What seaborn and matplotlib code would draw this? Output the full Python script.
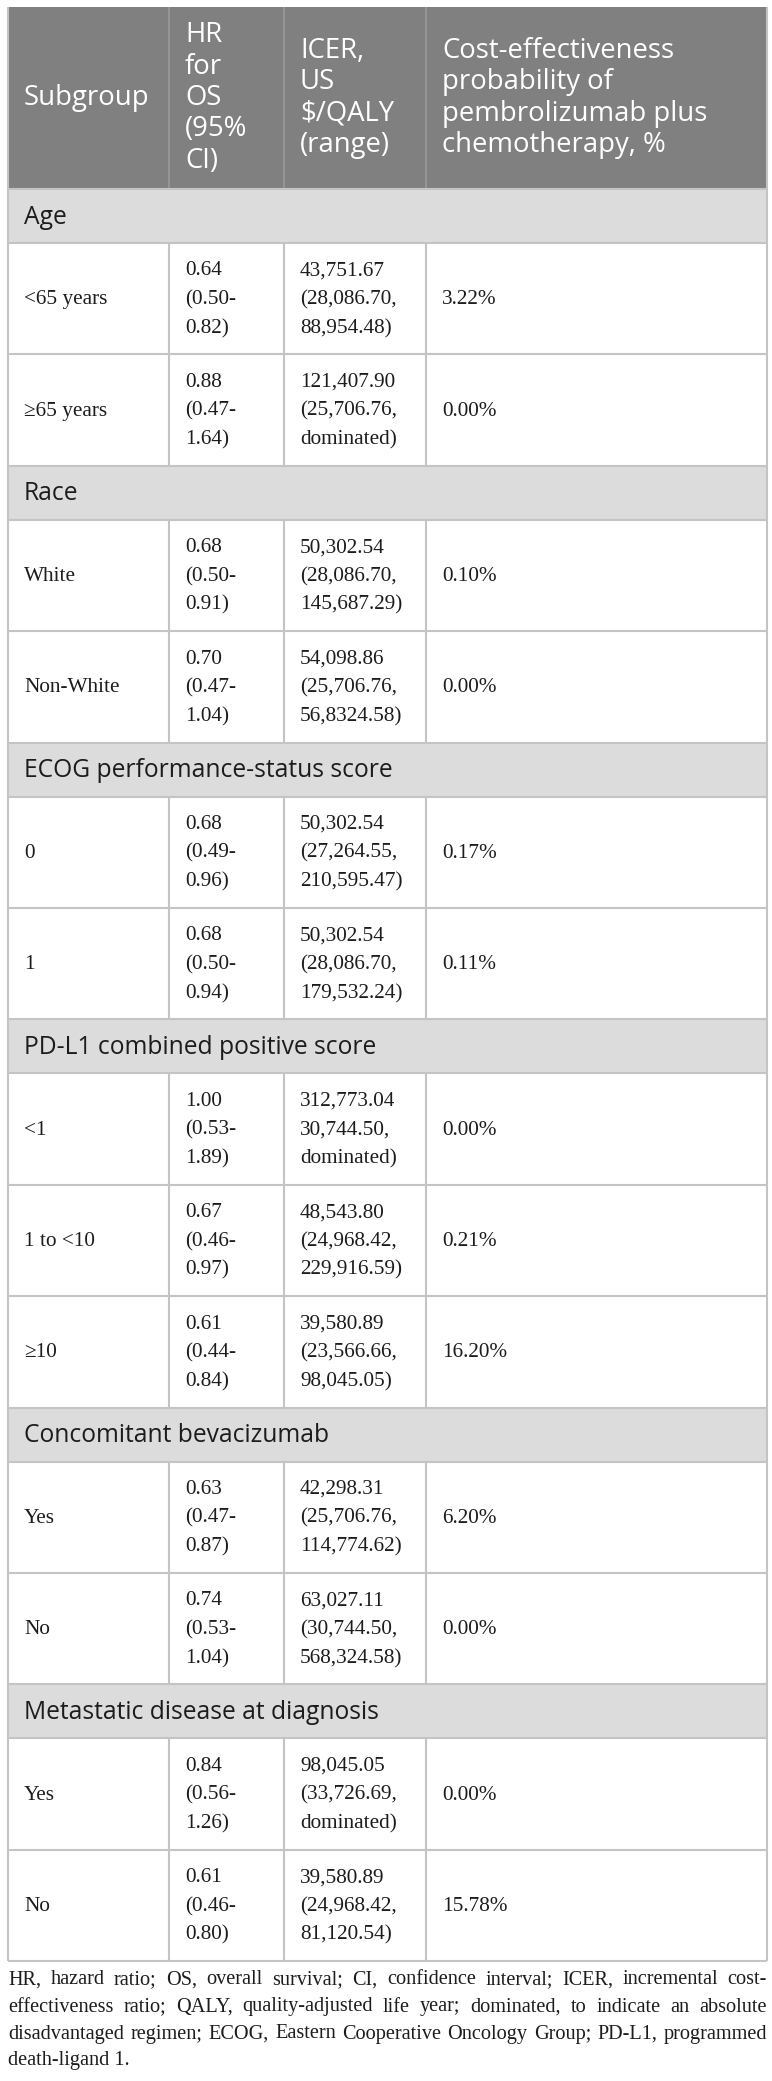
import matplotlib
matplotlib.use("Agg")
import matplotlib.pyplot as plt
import seaborn as sns
from matplotlib.patches import Rectangle

sns.set_style("white")

# ---- table content ----
headers = ["Subgroup",
           "HR\nfor\nOS\n(95%\nCI)",
           "ICER,\nUS\n$/QALY\n(range)",
           "Cost-effectiveness\nprobability of\npembrolizumab plus\nchemotherapy, %"]

sections = ["Age", "Race", "ECOG performance-status score",
            "PD-L1 combined positive score", "Concomitant bevacizumab",
            "Metastatic disease at diagnosis"]
section_size = [2, 2, 2, 3, 2, 2]

subgroups = ["<65 years", "\u226565 years", "White", "Non-White", "0", "1",
             "<1", "1 to <10", "\u226510", "Yes", "No", "Yes", "No"]
hr_os = ["0.64\n(0.50-\n0.82)", "0.88\n(0.47-\n1.64)", "0.68\n(0.50-\n0.91)",
         "0.70\n(0.47-\n1.04)", "0.68\n(0.49-\n0.96)", "0.68\n(0.50-\n0.94)",
         "1.00\n(0.53-\n1.89)", "0.67\n(0.46-\n0.97)", "0.61\n(0.44-\n0.84)",
         "0.63\n(0.47-\n0.87)", "0.74\n(0.53-\n1.04)", "0.84\n(0.56-\n1.26)",
         "0.61\n(0.46-\n0.80)"]
icer = ["43,751.67\n(28,086.70,\n88,954.48)", "121,407.90\n(25,706.76,\ndominated)",
        "50,302.54\n(28,086.70,\n145,687.29)", "54,098.86\n(25,706.76,\n56,8324.58)",
        "50,302.54\n(27,264.55,\n210,595.47)", "50,302.54\n(28,086.70,\n179,532.24)",
        "312,773.04\n30,744.50,\ndominated)", "48,543.80\n(24,968.42,\n229,916.59)",
        "39,580.89\n(23,566.66,\n98,045.05)", "42,298.31\n(25,706.76,\n114,774.62)",
        "63,027.11\n(30,744.50,\n568,324.58)", "98,045.05\n(33,726.69,\ndominated)",
        "39,580.89\n(24,968.42,\n81,120.54)"]
prob = ["3.22%", "0.00%", "0.10%", "0.00%", "0.17%", "0.11%", "0.00%",
        "0.21%", "16.20%", "6.20%", "0.00%", "0.00%", "15.78%"]

footnote = [
    "HR, hazard ratio; OS, overall survival; CI, confidence interval; ICER, incremental cost-",
    "effectiveness ratio; QALY, quality-adjusted life year; dominated, to indicate an absolute",
    "disadvantaged regimen; ECOG, Eastern Cooperative Oncology Group; PD-L1, programmed",
    "death-ligand 1.",
]

# ---- layout (pixels) ----
W, H = 772, 2081
col_x = [8, 169, 284, 426, 767]
pad = 16
top, head_h, sec_h, row_h = 7, 182, 54, 111.4
head_bg, sec_bg, line_c = "#808080", "#dcdcdc", "#c4c4c4"
txt_c = "#1e1b1c"
sans, serif = "Open Sans", "Liberation Serif"

fig = plt.figure(figsize=(W / 100, H / 100), dpi=100)
ax = fig.add_axes([0, 0, 1, 1])
ax.set_xlim(0, W)
ax.set_ylim(H, 0)
ax.axis("off")
renderer = fig.canvas.get_renderer()


def text_width(s, family, size):
    t = ax.text(0, 0, s, family=family, fontsize=size)
    w = t.get_window_extent(renderer).width
    t.remove()
    return w


def fit(s, family, target):
    return 20 * target / text_width(s, family, 20)


head_fs = fit("Subgroup", sans, 125)
sec_fs = fit("Metastatic disease at diagnosis", sans, 354)
cell_fs = fit("(28,086.70,", serif, 97)


def multiline(x, yc, s, family, size, step, color):
    lines = s.split("\n")
    y0 = yc - step * (len(lines) - 1) / 2
    for i, ln in enumerate(lines):
        ax.text(x, y0 + i * step, ln, family=family, fontsize=size,
                color=color, va="center", ha="left")


# header
ax.add_patch(Rectangle((col_x[0], top), col_x[-1] - col_x[0], head_h,
                       facecolor=head_bg, edgecolor="none"))
for c in range(4):
    multiline(col_x[c] + pad, top + head_h / 2, headers[c], sans, head_fs,
              31.4, "white")
for xv in col_x[1:-1]:
    ax.vlines(xv, top, top + head_h, color="#9a9a9a", lw=1.2)

y = top + head_h
k = 0
for s, n in zip(sections, section_size):
    ax.add_patch(Rectangle((col_x[0], y), col_x[-1] - col_x[0], sec_h,
                           facecolor=sec_bg, edgecolor="none"))
    ax.text(col_x[0] + pad, y + sec_h / 2 + 1, s, family=sans, fontsize=sec_fs,
            color=txt_c, va="center", ha="left")
    ax.hlines(y, col_x[0], col_x[-1], color=line_c, lw=1.5)
    y += sec_h
    for _ in range(n):
        ax.hlines(y, col_x[0], col_x[-1], color=line_c, lw=1.5)
        ax.vlines(col_x[1:-1], y, y + row_h, color=line_c, lw=1.5)
        yc = y + row_h / 2 + 1
        cells = [subgroups[k], hr_os[k], icer[k], prob[k]]
        for c in range(4):
            multiline(col_x[c] + pad, yc, cells[c], serif, cell_fs, 28.8, txt_c)
        y += row_h
        k += 1
ax.hlines(y, col_x[0], col_x[-1], color=line_c, lw=1.5)
ax.vlines([col_x[0], col_x[-1]], top, y, color=line_c, lw=1.5)

# footnote, justified
foot_fs = cell_fs
widest = max(text_width(ln, serif, foot_fs) for ln in footnote)
if widest > 752:
    foot_fs *= 752 / widest
fy = 1980
for i, ln in enumerate(footnote):
    if i == len(footnote) - 1:
        ax.text(col_x[0], fy, ln, family=serif, fontsize=foot_fs, color=txt_c,
                va="center", ha="left")
    else:
        words = ln.split(" ")
        ws = [text_width(w, serif, foot_fs) for w in words]
        gap = (col_x[-1] - col_x[0] - sum(ws)) / (len(words) - 1)
        x = col_x[0]
        for w, wd in zip(words, ws):
            ax.text(x, fy, w, family=serif, fontsize=foot_fs, color=txt_c,
                    va="center", ha="left")
            x += wd + gap
    fy += 27

fig.savefig("out.png", dpi=100, facecolor="white")
